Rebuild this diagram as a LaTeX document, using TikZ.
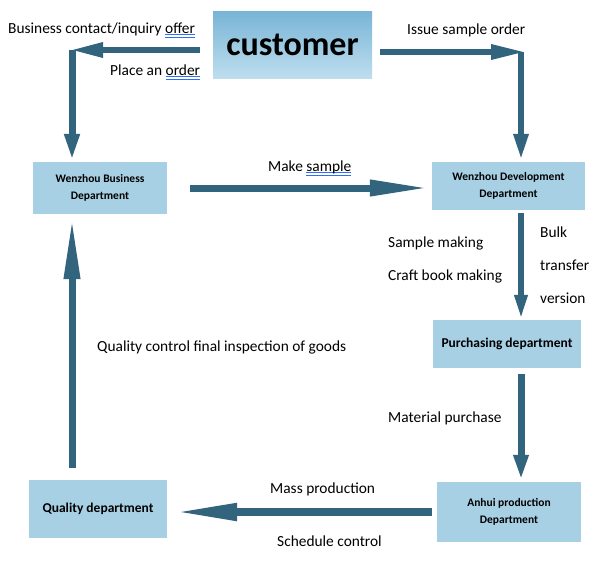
\documentclass[tikz,border=0pt]{standalone}
\usepackage{fontspec}
\setmainfont{Carlito}
\usetikzlibrary{arrows.meta}
\definecolor{flowblue}{HTML}{32647E}
\definecolor{boxblue}{HTML}{A8D0E4}
\definecolor{kundeoben}{HTML}{78B4D6}
\definecolor{kundeunten}{HTML}{BEDEEE}
\definecolor{gramblue}{HTML}{2F6BFF}
% doppelte Linie unter einem Wort (wie im Original)
\newsavebox\grambox
\newcommand\gram[1]{\sbox\grambox{#1}%
  \rlap{\textcolor{gramblue}{\rule[-2pt]{\wd\grambox}{0.8pt}}}%
  \rlap{\textcolor{gramblue}{\rule[-4.4pt]{\wd\grambox}{0.8pt}}}%
  \usebox\grambox}
\begin{document}
\begin{tikzpicture}[x=1pt,y=-1pt]
    % y-Achse umgedreht: Koordinaten wie Bildpixel von oben gezaehlt
    \tikzset{
      abt/.style={fill=boxblue,inner sep=0pt,align=center,
        font=\fontsize{11.5}{17}\selectfont\bfseries},
      txt/.style={anchor=west,inner sep=0pt,font=\fontsize{15.4}{17}\selectfont},
      fluss/.style n args={2}{draw=flowblue,line width=7pt,
        -{Triangle[length=#1,width=#2]}}}
    \useasboundingbox (0,0) rectangle (613,562);
    % Abteilungen
    \node[inner sep=0pt,minimum width=159pt,minimum height=67pt,
      top color=kundeoben,bottom color=kundeunten,
      font=\fontsize{34}{36}\selectfont\bfseries] (kunde) at (292.5,44.5) {customer};
    \node[abt,minimum width=134pt,minimum height=52pt] (geschaeft) at (100,188)
      {Wenzhou Business\\Department};
    \node[abt,minimum width=153pt,minimum height=48pt] (entw) at (508.5,186)
      {Wenzhou Development\\Department};
    \node[abt,minimum width=148pt,minimum height=48pt,
      font=\fontsize{13.5}{17}\selectfont\bfseries] (einkauf) at (507,344)
      {Purchasing department};
    \node[abt,minimum width=144pt,minimum height=60pt] (anhui) at (509,512)
      {Anhui production\\Department};
    \node[abt,minimum width=138pt,minimum height=58pt,
      font=\fontsize{13.5}{17}\selectfont\bfseries] (qualitaet) at (98,509)
      {Quality department};
    % Eckpunkte der oberen Pfeile
    \coordinate (el) at (72,50);
    \coordinate (er) at (521,52);
    % Pfeile
    \draw[fluss={33pt}{14pt},line width=6pt,shorten <=13pt,shorten >=-2pt]
      (kunde.west |- el) -- (el);
    \draw[fluss={27pt}{14pt},shorten >=1pt] (el) -- (el |- geschaeft.north);
    \draw[fluss={35pt}{14pt},line width=6pt,shorten <=8pt,shorten >=-5pt]
      (kunde.east |- er) -- (er);
    \draw[fluss={26pt}{14pt},line width=6pt,shorten >=2pt] (er) -- (er |- entw.north);
    \draw[fluss={60pt}{15pt},shorten <=23pt,shorten >=2pt]
      (geschaeft.east) -- (geschaeft.east -| entw.west);
    \draw[fluss={25pt}{12pt},line width=6pt,shorten <=3pt]
      (entw.south -| er) -- (einkauf.north -| er);
    \draw[fluss={25pt}{14pt},shorten <=6pt,shorten >=2pt]
      (einkauf.south -| er) -- (anhui.north -| er);
    \draw[fluss={64pt}{16pt},line width=8pt,shorten <=5pt,shorten >=6pt]
      (anhui.west) -- (anhui.west -| qualitaet.east);
    \draw[fluss={62pt}{15pt},shorten <=12pt,shorten >=3pt]
      (qualitaet.north -| el) -- (geschaeft.south -| el);
    % Beschriftungen
    \node[txt] (t1) at (8,30) {Business contact/inquiry \gram{offer}};
    \node[txt] (t2) at (110,72) {Place an \gram{order}};
    \node[txt] (t3) at (407,30) {Issue sample order};
    \node[txt] (t4) at (268,168) {Make \gram{sample}};
    \node[txt] (t5) at (388,243) {Sample making};
    \node[txt] (t6) at (388,276) {Craft book making};
    \node[txt] (t7) at (540,232) {Bulk};
    \node[txt] (t8) at (540,265) {transfer};
    \node[txt] (t9) at (540,298) {version};
    \node[txt] (t10) at (97,347) {Quality control final inspection of goods};
    \node[txt] (t11) at (388,418) {Material purchase};
    \node[txt] (t12) at (270,489) {Mass production};
    \node[txt] (t13) at (277,541) {Schedule control};
\end{tikzpicture}
\end{document}
